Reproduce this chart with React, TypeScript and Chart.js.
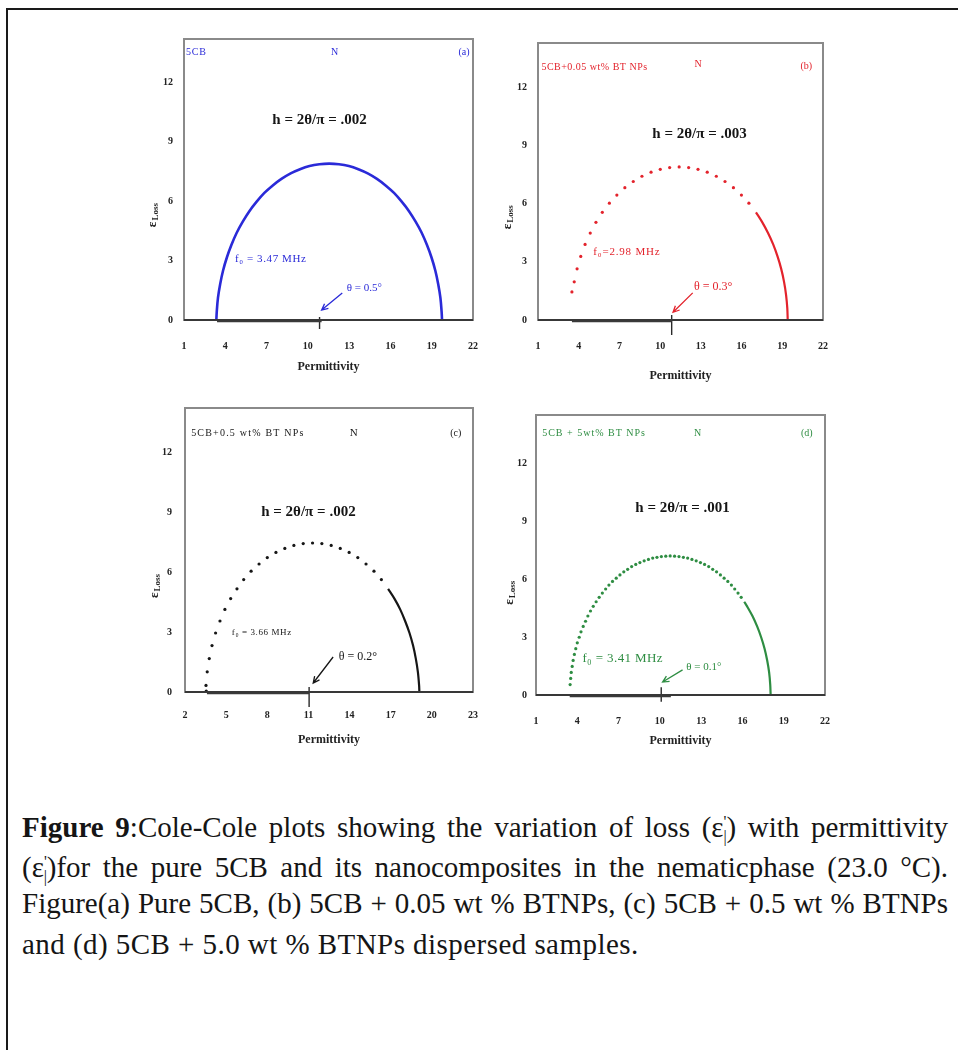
import React, { useEffect, useRef } from 'react';
import { Chart, registerables } from 'chart.js';

Chart.register(...registerables);

const SERIF = '"Liberation Serif", "Times New Roman", serif';
Chart.defaults.font.family = SERIF;

// ---------- tick labels ----------
const yTicksAll = [0, 3, 6, 9, 12];
const xTicksABD = [1, 4, 7, 10, 13, 16, 19, 22];
const xTicksC = [2, 5, 8, 11, 14, 17, 20, 23];

// ---------- (a) pure 5CB : permittivity / loss ----------
const aPerm = [3.35, 3.38, 3.47, 3.63, 3.84, 4.12, 4.45, 4.83, 5.27, 5.75, 6.28, 6.84, 7.45, 8.08, 8.75, 9.43, 10.12, 10.84, 11.55, 12.26, 12.98, 13.67, 14.35, 15.02, 15.65, 16.26, 16.82, 17.35, 17.83, 18.27, 18.65, 18.98, 19.26, 19.47, 19.63, 19.72, 19.75];
const aLoss = [0, 0.41, 1.13, 1.82, 2.5, 3.17, 3.8, 4.41, 4.97, 5.5, 5.98, 6.42, 6.8, 7.13, 7.41, 7.62, 7.78, 7.87, 7.9, 7.87, 7.78, 7.62, 7.41, 7.13, 6.8, 6.42, 5.98, 5.5, 4.97, 4.41, 3.8, 3.17, 2.5, 1.82, 1.13, 0.41, 0];

// ---------- (b) 5CB + 0.05 wt% ----------
const bPermHF = [3.5, 3.67, 3.88, 4.15, 4.47, 4.85, 5.27, 5.74, 6.26, 6.81, 7.4, 8.02, 8.66, 9.33, 10.01, 10.7, 11.4, 12.1, 12.79, 13.47, 14.14, 14.78, 15.4, 15.99, 16.54];
const bLossHF = [1.45, 1.97, 2.64, 3.28, 3.9, 4.49, 5.04, 5.56, 6.03, 6.45, 6.83, 7.15, 7.42, 7.63, 7.78, 7.87, 7.9, 7.87, 7.78, 7.63, 7.42, 7.15, 6.83, 6.45, 6.03];
const bPermLF = [17.06, 17.53, 17.95, 18.33, 18.65, 18.92, 19.13, 19.28, 19.37, 19.4];
const bLossLF = [5.56, 5.04, 4.49, 3.9, 3.28, 2.64, 1.97, 1.29, 0.6, 0];

// ---------- (c) 5CB + 0.5 wt% ----------
const cPermHF = [3.55, 3.53, 3.62, 3.77, 3.97, 4.23, 4.55, 4.91, 5.33, 5.79, 6.28, 6.82, 7.4, 8.0, 8.63, 9.28, 9.94, 10.62, 11.3, 11.98, 12.66, 13.32, 13.97, 14.6, 15.2, 15.78, 16.32];
const cLossHF = [0.05, 0.33, 1.01, 1.67, 2.32, 2.95, 3.55, 4.13, 4.67, 5.16, 5.62, 6.04, 6.4, 6.72, 6.98, 7.18, 7.33, 7.42, 7.45, 7.42, 7.33, 7.18, 6.98, 6.72, 6.4, 6.04, 5.62];
const cPermLF = [16.81, 17.27, 17.69, 18.05, 18.37, 18.63, 18.83, 18.98, 19.07, 19.09];
const cLossLF = [5.16, 4.67, 4.13, 3.55, 2.95, 2.32, 1.67, 1.01, 0.33, 0];

// ---------- (d) 5CB + 5 wt% ----------
const dPermHF = [3.48, 3.52, 3.56, 3.63, 3.7, 3.79, 3.89, 4.0, 4.14, 4.27, 4.43, 4.6, 4.77, 4.96, 5.16, 5.37, 5.59, 5.82, 6.06, 6.3, 6.56, 6.83, 7.1, 7.38, 7.66, 7.95, 8.25, 8.55, 8.86, 9.17, 9.48, 9.79, 10.11, 10.43, 10.75, 11.07, 11.39, 11.71, 12.02, 12.33, 12.64, 12.95, 13.25, 13.55, 13.84, 14.12, 14.4, 14.67, 14.94, 15.2, 15.44, 15.68, 15.91];
const dLossHF = [0.54, 0.86, 1.17, 1.48, 1.79, 2.1, 2.4, 2.7, 2.99, 3.27, 3.55, 3.82, 4.09, 4.35, 4.59, 4.83, 5.06, 5.28, 5.49, 5.69, 5.88, 6.05, 6.22, 6.38, 6.51, 6.65, 6.76, 6.86, 6.95, 7.02, 7.09, 7.13, 7.17, 7.19, 7.2, 7.19, 7.17, 7.13, 7.09, 7.02, 6.95, 6.86, 6.76, 6.65, 6.51, 6.38, 6.22, 6.05, 5.88, 5.69, 5.49, 5.28, 5.06];
const dPermLF = [16.13, 16.34, 16.73, 17.07, 17.36, 17.61, 17.8, 17.94, 18.02, 18.05];
const dLossLF = [4.83, 4.59, 4.09, 3.55, 2.99, 2.4, 1.79, 1.17, 0.54, 0];

// ---------- depression base lines and centre marks ----------
const aBasePerm = [3.4, 11.0];
const bBasePerm = [3.5, 10.85];
const cBasePerm = [3.6, 11.05];
const dBasePerm = [3.45, 10.8];
const baseLoss = [-0.05, -0.05];
const aMark = { x: 10.85, y: [0.15, -0.45] };
const bMark = { x: 10.85, y: [0.26, -0.77] };
const cMark = { x: 11.05, y: [0.25, -0.75] };
const dMark = { x: 10.1, y: [0.4, -0.35] };

type Txt = { t: string; x: number; y: number; size: number; bold?: boolean; align?: CanvasTextAlign; color?: string; ls?: number };

interface Panel {
  key: string;
  color: string;
  box: { left: number; top: number; width: number; height: number };
  padTop: number;
  padRight: number;
  yAxisW: number;
  xAxisH: number;
  xTickPad: number;
  yTickPad: number;
  xTitlePad: number;
  yTitleX: number;
  xMin: number;
  xMax: number;
  yMax: number;
  xTicks: number[];
  full?: [number[], number[]];
  hf?: [number[], number[]];
  lf?: [number[], number[]];
  base: [number[], number[]];
  mark: { x: number; y: number[] };
  texts: Txt[];
  arrow: { from: [number, number]; to: [number, number] };
}

const BLUE = '#2a2ad8';
const RED = '#e3232c';
const BLACK = '#161616';
const GREEN = '#2e8d42';
const Y_TITLE_AT = 5.3;

const panels: Panel[] = [
  {
    key: 'a', color: BLUE,
    box: { left: 140, top: 25, width: 350, height: 360 },
    padTop: 14, padRight: 17, yAxisW: 44, xAxisH: 65,
    xTickPad: 20, yTickPad: 11, xTitlePad: 12, yTitleX: 13,
    xMin: 1, xMax: 22, yMax: 14.2, xTicks: xTicksABD,
    full: [aPerm, aLoss],
    base: [aBasePerm, baseLoss], mark: aMark,
    texts: [
      { t: '5CB', x: 1.15, y: 13.5, size: 10, align: 'left', ls: 0.8 },
      { t: 'N', x: 11.95, y: 13.5, size: 10 },
      { t: '(a)', x: 21.75, y: 13.5, size: 10, align: 'right' },
      { t: 'h = 2θ/π = .002', x: 10.85, y: 10.1, size: 15, bold: true, color: BLACK },
      { t: 'f₀ = 3.47 MHz', x: 7.3, y: 3.1, size: 11, ls: 0.6 },
      { t: 'θ = 0.5°', x: 14.1, y: 1.6, size: 11 },
    ],
    arrow: { from: [12.5, 1.36], to: [11.0, 0.5] },
  },
  {
    key: 'b', color: RED,
    box: { left: 495, top: 25, width: 345, height: 365 },
    padTop: 18, padRight: 17, yAxisW: 43, xAxisH: 70,
    xTickPad: 20, yTickPad: 11, xTitlePad: 8, yTitleX: 13,
    xMin: 1, xMax: 22, yMax: 14.3, xTicks: xTicksABD,
    hf: [bPermHF, bLossHF], lf: [bPermLF, bLossLF],
    base: [bBasePerm, baseLoss], mark: bMark,
    texts: [
      { t: '5CB+0.05 wt% BT NPs', x: 1.25, y: 13.05, size: 10, align: 'left', ls: 0.5 },
      { t: 'N', x: 12.8, y: 13.2, size: 10 },
      { t: '(b)', x: 21.2, y: 13.1, size: 10, align: 'right' },
      { t: 'h = 2θ/π = .003', x: 12.9, y: 9.6, size: 15, bold: true, color: BLACK },
      { t: 'f₀=2.98 MHz', x: 7.55, y: 3.5, size: 11, ls: 0.8 },
      { t: 'θ = 0.3°', x: 13.9, y: 1.7, size: 12 },
    ],
    arrow: { from: [12.4, 1.4], to: [10.95, 0.4] },
  },
  {
    key: 'c', color: BLACK,
    box: { left: 140, top: 395, width: 350, height: 365 },
    padTop: 13, padRight: 17, yAxisW: 45, xAxisH: 68,
    xTickPad: 17, yTickPad: 13, xTitlePad: 14, yTitleX: 15,
    xMin: 2, xMax: 23, yMax: 14.2, xTicks: xTicksC,
    hf: [cPermHF, cLossHF], lf: [cPermLF, cLossLF],
    base: [cBasePerm, baseLoss], mark: cMark,
    texts: [
      { t: '5CB+0.5 wt% BT NPs', x: 2.45, y: 12.95, size: 10, align: 'left', ls: 1.2 },
      { t: 'N', x: 14.3, y: 12.95, size: 11 },
      { t: '(c)', x: 22.15, y: 12.95, size: 10, align: 'right' },
      { t: 'h = 2θ/π = .002', x: 11.0, y: 9.0, size: 15, bold: true },
      { t: 'f₀ = 3.66 MHz', x: 7.6, y: 2.95, size: 9, ls: 0.6 },
      { t: 'θ = 0.2°', x: 14.6, y: 1.75, size: 12 },
    ],
    arrow: { from: [12.8, 1.75], to: [11.35, 0.45] },
  },
  {
    key: 'd', color: GREEN,
    box: { left: 495, top: 395, width: 345, height: 365 },
    padTop: 20, padRight: 15, yAxisW: 41, xAxisH: 65,
    xTickPad: 20, yTickPad: 9, xTitlePad: 13, yTitleX: 15,
    xMin: 1, xMax: 22, yMax: 14.5, xTicks: xTicksABD,
    hf: [dPermHF, dLossHF], lf: [dPermLF, dLossLF],
    base: [dBasePerm, baseLoss], mark: dMark,
    texts: [
      { t: '5CB + 5wt% BT NPs', x: 1.45, y: 13.55, size: 10, align: 'left', ls: 1.0 },
      { t: 'N', x: 12.75, y: 13.55, size: 10 },
      { t: '(d)', x: 21.1, y: 13.55, size: 10, align: 'right' },
      { t: 'h = 2θ/π = .001', x: 11.65, y: 9.7, size: 15, bold: true, color: BLACK },
      { t: 'f₀ = 3.41 MHz', x: 7.3, y: 1.9, size: 13, ls: 0.4 },
      { t: 'θ = 0.1°', x: 13.2, y: 1.45, size: 11 },
    ],
    arrow: { from: [11.65, 1.3], to: [10.2, 0.67] },
  },
];

const pts = (xs: number[], ys: number[]) => xs.map((x, i) => ({ x, y: ys[i] }));

function makeDecor(p: Panel) {
  return {
    id: 'decor_' + p.key,
    afterDraw(chart: any) {
      const { ctx, chartArea: a, scales } = chart;
      const xs = scales.x;
      const ys = scales.y;
      ctx.save();
      // frame
      ctx.strokeStyle = '#8a8a8a';
      ctx.lineWidth = 2;
      ctx.strokeRect(a.left, a.top, a.right - a.left, a.bottom - a.top);
      // zero line
      const y0 = ys.getPixelForValue(0);
      ctx.strokeStyle = '#1c1c1c';
      ctx.lineWidth = 1.6;
      ctx.beginPath();
      ctx.moveTo(a.left, y0);
      ctx.lineTo(a.right, y0);
      ctx.stroke();
      // y-axis title  ε with subscript "Loss", rotated
      ctx.save();
      ctx.translate(p.yTitleX, ys.getPixelForValue(Y_TITLE_AT));
      ctx.rotate(-Math.PI / 2);
      ctx.fillStyle = '#222';
      ctx.textBaseline = 'middle';
      ctx.textAlign = 'left';
      ctx.font = `bold 13px ${SERIF}`;
      const ew = ctx.measureText('ε').width;
      ctx.font = `bold 9px ${SERIF}`;
      const lw = ctx.measureText('Loss').width;
      const start = -(ew + lw + 1) / 2;
      ctx.font = `bold 13px ${SERIF}`;
      ctx.fillText('ε', start, 0);
      ctx.font = `bold 9px ${SERIF}`;
      ctx.fillText('Loss', start + ew + 1, 3);
      ctx.restore();
      // texts
      for (const t of p.texts) {
        ctx.font = `${t.bold ? 'bold ' : ''}${t.size}px ${SERIF}`;
        ctx.fillStyle = t.color || p.color;
        ctx.textAlign = t.align || 'center';
        ctx.textBaseline = 'middle';
        (ctx as any).letterSpacing = `${t.ls || 0}px`;
        ctx.fillText(t.t, xs.getPixelForValue(t.x), ys.getPixelForValue(t.y));
      }
      (ctx as any).letterSpacing = '0px';
      // arrow
      const fx = xs.getPixelForValue(p.arrow.from[0]);
      const fy = ys.getPixelForValue(p.arrow.from[1]);
      const tx = xs.getPixelForValue(p.arrow.to[0]);
      const ty = ys.getPixelForValue(p.arrow.to[1]);
      ctx.strokeStyle = p.color;
      ctx.lineWidth = 1.3;
      ctx.beginPath();
      ctx.moveTo(fx, fy);
      ctx.lineTo(tx, ty);
      const ang = Math.atan2(ty - fy, tx - fx);
      const hl = 7;
      ctx.moveTo(tx - hl * Math.cos(ang - 0.45), ty - hl * Math.sin(ang - 0.45));
      ctx.lineTo(tx, ty);
      ctx.lineTo(tx - hl * Math.cos(ang + 0.45), ty - hl * Math.sin(ang + 0.45));
      ctx.stroke();
      ctx.restore();
    },
  };
}

function buildConfig(p: Panel): any {
  const datasets: any[] = [];
  datasets.push({
    data: pts(p.base[0], p.base[1]),
    showLine: true, borderColor: '#3a3a3a', borderWidth: 2.5, pointRadius: 0, clip: false,
  });
  datasets.push({
    data: pts([p.mark.x, p.mark.x], p.mark.y),
    showLine: true, borderColor: '#2a2a2a', borderWidth: 1.4, pointRadius: 0, clip: false,
  });
  if (p.full) {
    datasets.push({
      data: pts(p.full[0], p.full[1]),
      showLine: true, borderColor: p.color, borderWidth: 2.6, pointRadius: 0, tension: 0.35,
    });
  }
  if (p.hf) {
    datasets.push({
      data: pts(p.hf[0], p.hf[1]),
      showLine: false, pointStyle: 'circle', pointRadius: 1.6, pointBackgroundColor: p.color,
      pointBorderWidth: 0, borderColor: p.color,
    });
  }
  if (p.lf) {
    datasets.push({
      data: pts(p.lf[0], p.lf[1]),
      showLine: true, borderColor: p.color, borderWidth: 2.2, pointRadius: 0, tension: 0.3,
    });
  }
  const tickFont = { family: SERIF, size: 10, weight: 'bold' };
  const titleFont = { family: SERIF, size: 12, weight: 'bold' };
  return {
    type: 'scatter',
    data: { datasets },
    options: {
      responsive: false,
      animation: false,
      events: [],
      layout: { padding: { top: p.padTop, right: p.padRight, left: 0, bottom: 0 } },
      plugins: { legend: { display: false }, tooltip: { enabled: false } },
      scales: {
        x: {
          type: 'linear', position: 'bottom', min: p.xMin, max: p.xMax, bounds: 'data',
          grid: { display: false, drawTicks: false },
          border: { display: false },
          ticks: { font: tickFont, color: '#222', padding: p.xTickPad, maxRotation: 0, autoSkip: false, callback: (v: number) => String(v) },
          afterBuildTicks: (axis: any) => { axis.ticks = p.xTicks.map((v) => ({ value: v })); },
          afterFit: (s: any) => {
            s.height = p.xAxisH;
            s.paddingLeft = 0; s.paddingRight = 0; s.paddingTop = 0; s.paddingBottom = 0;
          },
          title: { display: true, text: 'Permittivity', font: titleFont, color: '#222', padding: { top: 0, bottom: p.xTitlePad - 1 } },
        },
        y: {
          type: 'linear', position: 'left', min: 0, max: p.yMax, bounds: 'data',
          grid: { display: false, drawTicks: false },
          border: { display: false },
          ticks: { font: tickFont, color: '#222', padding: p.yTickPad, autoSkip: false, callback: (v: number) => String(v) },
          afterBuildTicks: (axis: any) => { axis.ticks = yTicksAll.map((v) => ({ value: v })); },
          afterFit: (s: any) => {
            s.width = p.yAxisW;
            s.paddingLeft = 0; s.paddingRight = 0; s.paddingTop = 0; s.paddingBottom = 0;
          },
          title: { display: false },
        },
      },
    },
    plugins: [makeDecor(p)],
  };
}

function PanelChart({ panel }: { panel: Panel }) {
  const ref = useRef<HTMLCanvasElement>(null);
  useEffect(() => {
    if (!ref.current) return;
    const chart = new Chart(ref.current, buildConfig(panel));
    return () => chart.destroy();
  }, [panel]);
  const b = panel.box;
  return (
    <canvas
      ref={ref}
      width={b.width}
      height={b.height}
      style={{ position: 'absolute', left: b.left, top: b.top, width: b.width, height: b.height }}
    />
  );
}

const Eps = () => (
  <span>
    ε
    <span style={{ fontSize: '0.55em', verticalAlign: '-0.3em' }}>|</span>
    <span style={{ fontSize: '0.55em', verticalAlign: '0.6em', marginLeft: '-0.2em' }}>'</span>
  </span>
);

const capLine = (top: number, last: boolean): React.CSSProperties => ({
  position: 'absolute',
  left: 22,
  top: top - 20,
  width: 926,
  height: 40,
  lineHeight: '40px',
  fontSize: 29,
  color: '#151515',
  textAlign: last ? 'left' : 'justify',
  textAlignLast: last ? 'left' : 'justify',
  letterSpacing: last ? '0.45px' : '0px',
  whiteSpace: 'nowrap',
});

export default function App() {
  return (
    <div style={{ position: 'absolute', left: 0, top: 0, width: 958, height: 1050, overflow: 'hidden', background: '#fff', fontFamily: SERIF }}>
      <div style={{ position: 'absolute', left: 6, top: 8, width: 1000, height: 1100, borderLeft: '2px solid #1a1a1a', borderTop: '2px solid #1a1a1a' }} />
      {panels.map((p) => <PanelChart key={p.key} panel={p} />)}
      <div style={capLine(822, false)}>
        <b>Figure 9</b>:Cole-Cole plots showing the variation of loss (<Eps />) with permittivity
      </div>
      <div style={capLine(862, false)}>
        (<Eps />)for the pure 5CB and its nanocomposites in the nematicphase (23.0 °C).
      </div>
      <div style={capLine(903, false)}>
        Figure(a) Pure 5CB, (b) 5CB + 0.05 wt % BTNPs, (c) 5CB + 0.5 wt % BTNPs
      </div>
      <div style={capLine(944, true)}>
        and (d) 5CB + 5.0 wt % BTNPs dispersed samples.
      </div>
    </div>
  );
}
